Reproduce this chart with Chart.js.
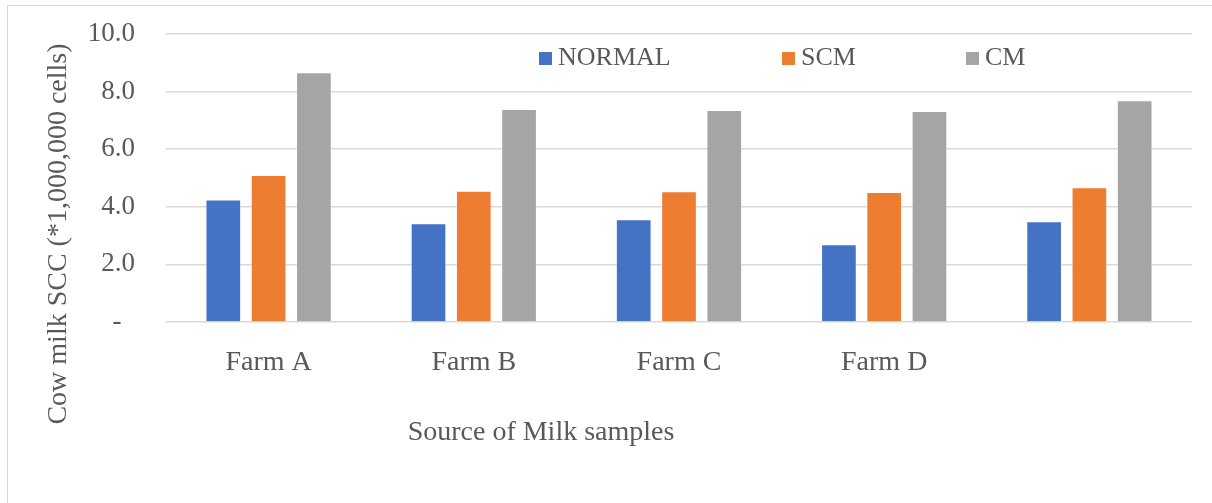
<!DOCTYPE html>
<html>
<head>
<meta charset="utf-8">
<script src="https://cdn.jsdelivr.net/npm/chart.js@4.4.1/dist/chart.umd.min.js"></script>
<style>
  html, body { margin: 0; padding: 0; background: #fff; overflow: hidden; }
  #frame { position: absolute; left: 7px; top: 5px; width: 1240px; height: 540px; border: 1px solid #d9d9d9; }
  #chart { position: absolute; left: 0; top: 0; }
</style>
</head>
<body>
<div id="frame"></div>
<canvas id="chart" width="1212" height="503"></canvas>
<script>
// Data
const farms = ['Farm A', 'Farm B', 'Farm C', 'Farm D', ''];
const normal = [4.25, 3.43, 3.57, 2.70, 3.50];
const scm = [5.10, 4.56, 4.54, 4.51, 4.68];
const cm = [8.67, 7.40, 7.36, 7.33, 7.70];
const yTicks = [0, 2, 4, 6, 8, 10];
const yTitle = 'Cow milk SCC (*1,000,000 cells)';
const xTitle = 'Source of Milk samples';

const serif = "'Liberation Serif', 'Times New Roman', serif";
const textColor = '#595959';

// Legend and axis titles sit where Excel put them, so draw them by hand
const excelExtras = {
    id: 'excelExtras',
    afterDraw(chart) {
        const ctx = chart.ctx;
        ctx.save();
        ctx.fillStyle = textColor;

        // legend
        const legendX = [539, 782, 966];
        ctx.font = '26px ' + serif;
        ctx.textBaseline = 'alphabetic';
        ctx.textAlign = 'left';
        chart.data.datasets.forEach((ds, i) => {
            ctx.fillStyle = ds.backgroundColor;
            ctx.fillRect(legendX[i], 52, 13, 13);
            ctx.fillStyle = textColor;
            ctx.fillText(ds.label, legendX[i] + 19, 65);
        });

        // x axis title
        ctx.font = '28px ' + serif;
        ctx.textAlign = 'center';
        ctx.fillText(xTitle, 541, 440);

        // y axis title
        ctx.translate(66, 234);
        ctx.rotate(-Math.PI / 2);
        ctx.fillText(yTitle, 0, 0);
        ctx.restore();
    }
};

new Chart(document.getElementById('chart'), {
    type: 'bar',
    data: {
        labels: farms,
        datasets: [
            { label: 'NORMAL', data: normal, backgroundColor: '#4472c4' },
            { label: 'SCM', data: scm, backgroundColor: '#ed7d31' },
            { label: 'CM', data: cm, backgroundColor: '#a5a5a5' }
        ].map(ds => Object.assign(ds, {
            borderColor: 'rgba(255,255,255,0.35)',
            borderWidth: 1,
            categoryPercentage: 0.662,
            barPercentage: 0.788
        }))
    },
    options: {
        responsive: false,
        animation: false,
        layout: { padding: { top: 34, right: 20, left: 0, bottom: 0 } },
        plugins: {
            legend: { display: false },
            tooltip: { enabled: false }
        },
        scales: {
            x: {
                grid: { display: false },
                border: { display: false },
                ticks: {
                    color: textColor,
                    font: { family: serif, size: 28 },
                    padding: 16,
                    maxRotation: 0,
                    autoSkip: false
                },
                afterFit(scale) { scale.height = 181; }
            },
            y: {
                min: 0,
                max: 10,
                afterBuildTicks(scale) { scale.ticks = yTicks.map(v => ({ value: v })); },
                // invisible tick marks make the gap between labels and plot
                grid: { color: '#d9d9d9', lineWidth: 1.5, drawTicks: true, tickLength: 31, tickColor: 'rgba(0,0,0,0)' },
                border: { display: false },
                ticks: {
                    color: textColor,
                    font: { family: serif, size: 27 },
                    padding: 0,
                    callback: v => v === 0 ? '-  ' : v.toFixed(1)
                },
                afterFit(scale) { scale.width = 166; }
            }
        }
    },
    plugins: [excelExtras]
});
</script>
</body>
</html>
